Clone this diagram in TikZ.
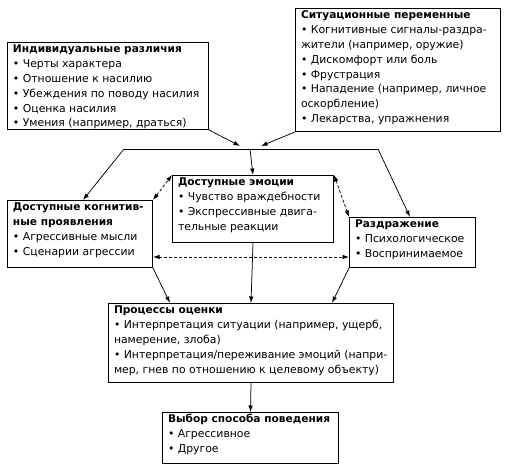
\documentclass[tikz,border=0pt]{standalone}
\usepackage{fontspec}
\setmainfont{DejaVu Sans}
\usetikzlibrary{arrows.meta}
\newcommand\bxt[3]{\parbox[t][#2pt][t]{#1pt}{\raggedright\setlength\parindent{0pt}\setlength\leftskip{5.5pt}\fontsize{10.85}{14.8}\selectfont\strut #3}}
\newcommand\ttl[1]{{\fontsize{10.6}{14.8}\selectfont\bfseries #1}}
\tikzset{
  box/.style={draw, line width=1pt, inner sep=0pt, anchor=north west},
  conn/.style={line width=0.75pt},
  arr/.style={conn, -{Latex[length=6.5pt,width=4.5pt]}},
  darr/.style={conn, dashed, dash pattern=on 3pt off 2pt, {Latex[length=6.5pt,width=4.5pt]}-{Latex[length=6.5pt,width=4.5pt]}}
}
\begin{document}
\begin{tikzpicture}[x=1pt,y=-1pt]
\useasboundingbox (0,0) rectangle (505,470);
\node[box] (ind) at (7,42) {\bxt{201}{87}{\ttl{Индивидуальные различия}\\
• Черты характера\\
• Отношение к насилию\\
• Убеждения по поводу насилия\\
• Оценка насилия\\
• Умения (например, драться)}};
\node[box] (sit) at (295,8) {\bxt{205}{123}{\ttl{Ситуационные переменные}\\
• Когнитивные сигналы-раздра-\\
жители (например, оружие)\\
• Дискомфорт или боль\\
• Фрустрация\\
• Нападение (например, личное\\
оскорбление)\\
• Лекарства, упражнения}};
\node[box] (emo) at (172,175) {\bxt{161}{67}{\ttl{Доступные эмоции}\\
• Чувство враждебности\\
• Экспрессивные двига-\\
тельные реакции}};
\node[box] (cog) at (7,200) {\bxt{145}{67}{\ttl{Доступные когнитив-}\\
\ttl{ные проявления}\\
• Агрессивные мысли\\
• Сценарии агрессии}};
\node[box] (irr) at (349,217) {\bxt{126}{50}{\ttl{Раздражение}\\
• Психологическое\\
• Воспринимаемое}};
\node[box] (proc) at (108,303) {\bxt{285}{79}{\ttl{Процессы оценки}\\
• Интерпретация ситуации (например, ущерб,\\
намерение, злоба)\\
• Интерпретация/переживание эмоций (напри-\\
мер, гнев по отношению к целевому объекту)}};
\node[box] (cho) at (162,412) {\bxt{176}{51}{\ttl{Выбор способа поведения}\\
• Агрессивное\\
• Другое}};
\coordinate (m1) at (240,146);
\coordinate (m2) at (261,146);
\coordinate (j) at (250,149);
\coordinate (jl) at (124,149);
\coordinate (jr) at (378,149);
\draw[arr] (ind.south east) -- (m1);
\draw[arr] (sit.south west) -- (m2);
\draw[conn] (jl) -- (jr);
\draw[arr] (j) -- (emo.north);
\draw[arr] (jl) -- (cog.north -| 83,0);
\draw[arr] (jr) -- (irr.north -| 410,0);
\draw[darr] (cog.north east) -- (emo.north west);
\draw[darr] (emo.north east) -- (irr.north west);
\draw[darr] (cog.east |- 0,257) -- (irr.west |- 0,257);
\draw[arr] (cog.south east) -- (proc.north -| 170,0);
\draw[arr] (emo.south) -- (proc.north);
\draw[arr] (irr.south west) -- (proc.north -| 332,0);
\draw[arr] (proc.south) -- (cho.north);
\end{tikzpicture}
\end{document}
